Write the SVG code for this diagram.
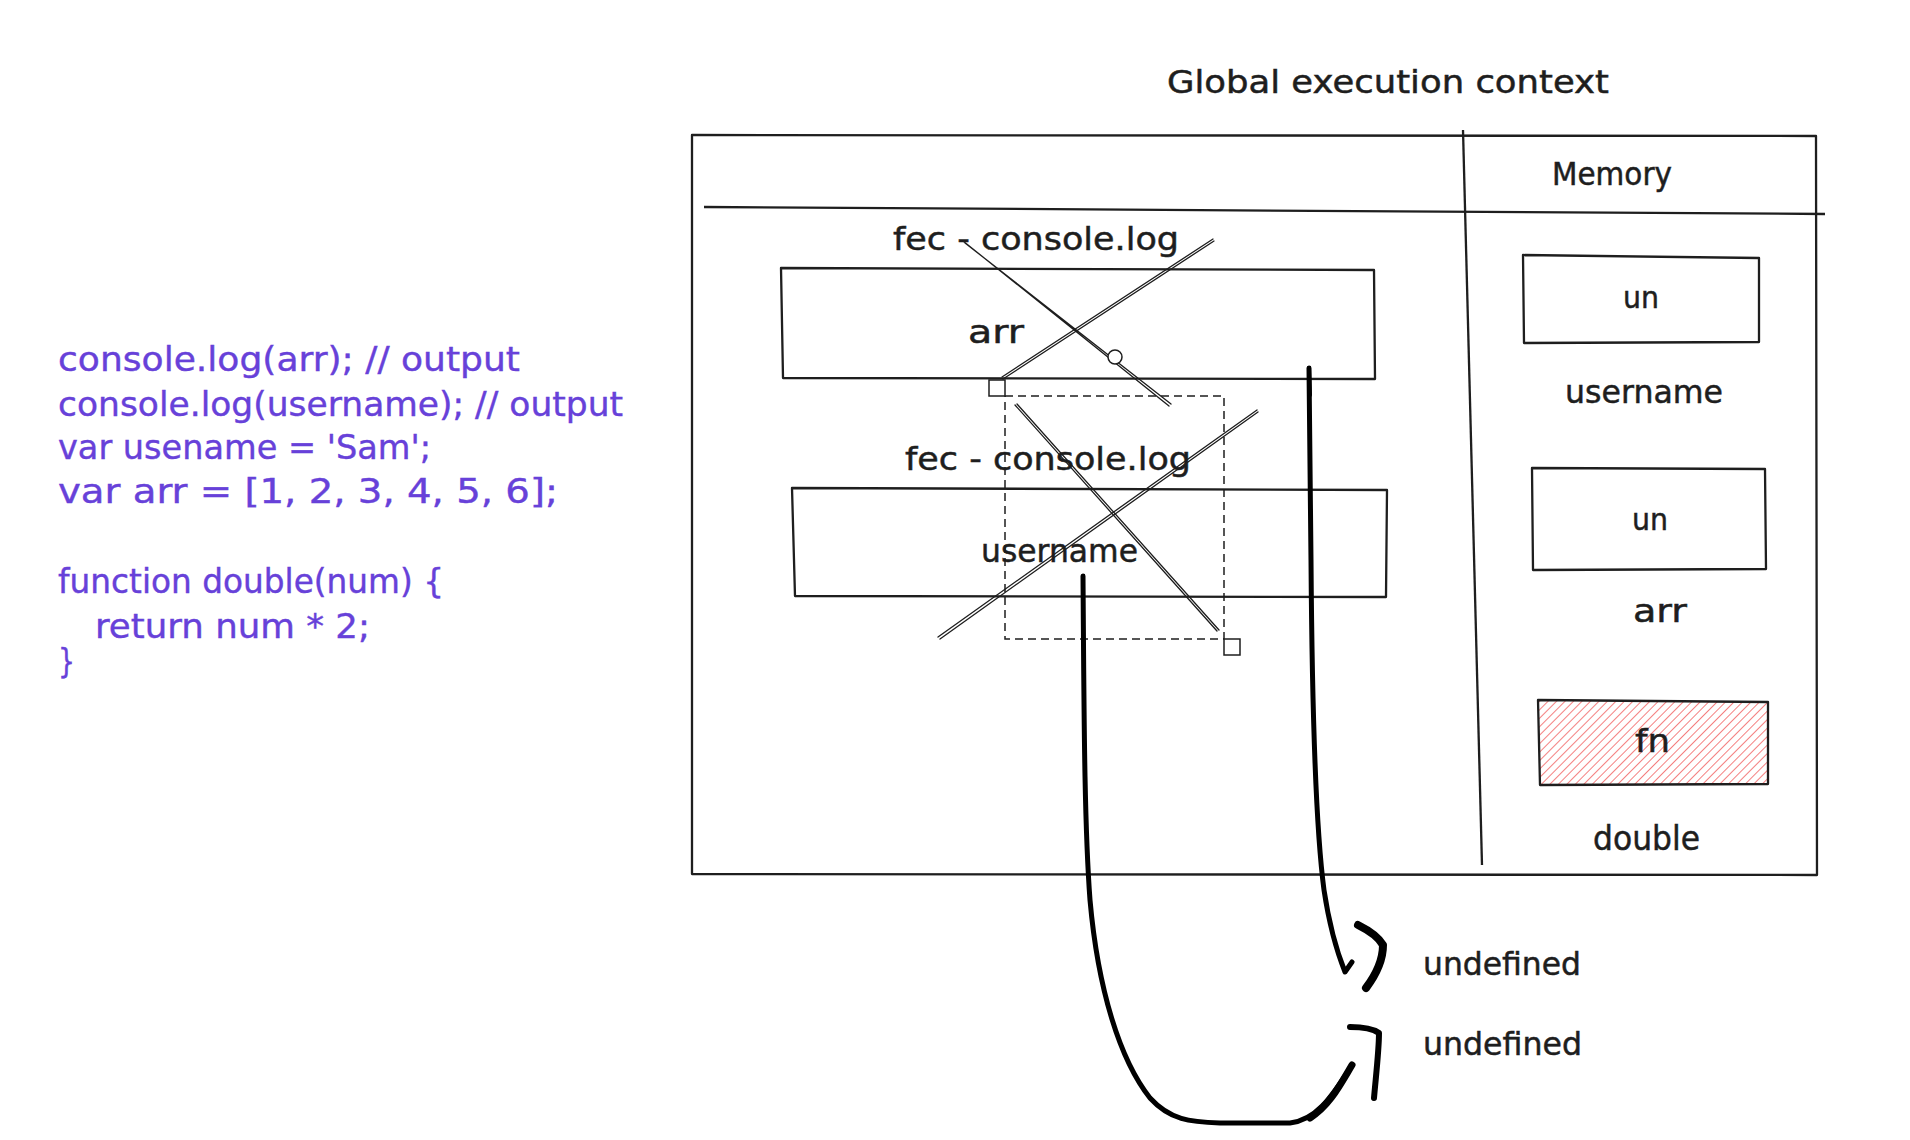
<svg xmlns="http://www.w3.org/2000/svg" width="1910" height="1140" viewBox="0 0 1910 1140">
<style>
.t{font-family:"DejaVu Sans","Liberation Sans",sans-serif;fill:#1e1e1e;stroke:#1e1e1e;stroke-width:0.5;}
.code{font-family:"DejaVu Sans","Liberation Sans",sans-serif;fill:#6741d9;stroke:#6741d9;stroke-width:0.4;font-size:34px;}
.box{fill:none;stroke:#1e1e1e;stroke-width:2.3;stroke-linejoin:round;}
.cross{fill:none;stroke:#1e1e1e;stroke-width:1.3;stroke-linecap:round;}
.arrow{fill:none;stroke:#000;stroke-width:5;stroke-linecap:round;stroke-linejoin:round;}
.brk{fill:none;stroke:#000;stroke-linecap:round;stroke-linejoin:round;}
</style>
<defs>
<pattern id="hatch" patternUnits="userSpaceOnUse" width="6" height="6" patternTransform="rotate(45)">
<line x1="0" y1="0" x2="0" y2="6" stroke="#f04848" stroke-width="1.4"/>
</pattern>
</defs>
<rect width="1910" height="1140" fill="#ffffff"/>

<g id="code">
<text class="code" x="58" y="371" textLength="462" lengthAdjust="spacingAndGlyphs">console.log(arr); // output</text>
<text class="code" x="58" y="416" textLength="565" lengthAdjust="spacingAndGlyphs">console.log(username); // output</text>
<text class="code" x="58" y="459" textLength="373" lengthAdjust="spacingAndGlyphs">var usename = 'Sam';</text>
<text class="code" x="58" y="503" textLength="500" lengthAdjust="spacingAndGlyphs">var arr = [1, 2, 3, 4, 5, 6];</text>
<text class="code" x="58" y="593" textLength="386" lengthAdjust="spacingAndGlyphs">function double(num) {</text>
<text class="code" x="95" y="638" textLength="275" lengthAdjust="spacingAndGlyphs">return num * 2;</text>
<text class="code" x="58" y="673" textLength="17" lengthAdjust="spacingAndGlyphs">}</text>
</g>

<g id="title">
<text class="t" x="1167" y="93" font-size="32" textLength="442" lengthAdjust="spacingAndGlyphs">Global execution context</text>
</g>

<g id="frame">
<path class="box" d="M692,135 L1816,136 L1817,875 L692,874 Z"/>
<path class="box" d="M704,207 L1825,214"/>
<path class="box" d="M1463,130 L1482,865"/>
<text class="t" x="1552" y="185" font-size="32" textLength="120" lengthAdjust="spacingAndGlyphs">Memory</text>
</g>

<g id="mem-username">
<path class="box" d="M1523,255 L1759,258 L1759,342 L1524,343 Z"/>
<text class="t" x="1623" y="308" font-size="30" textLength="36" lengthAdjust="spacingAndGlyphs">un</text>
<text class="t" x="1565" y="403" font-size="32" textLength="158" lengthAdjust="spacingAndGlyphs">username</text>
</g>

<g id="mem-arr">
<path class="box" d="M1532,468 L1765,469 L1766,569 L1533,570 Z"/>
<text class="t" x="1632" y="530" font-size="30" textLength="36" lengthAdjust="spacingAndGlyphs">un</text>
<text class="t" x="1633" y="622" font-size="32" textLength="54" lengthAdjust="spacingAndGlyphs">arr</text>
</g>

<g id="mem-double">
<path d="M1538,700 L1768,702 L1768,784 L1540,785 Z" fill="url(#hatch)" stroke="none"/>
<path class="box" d="M1538,700 L1768,702 L1768,784 L1540,785 Z"/>
<text class="t" x="1635" y="752" font-size="32" textLength="35" lengthAdjust="spacingAndGlyphs">fn</text>
<text class="t" x="1593" y="850" font-size="34" textLength="107" lengthAdjust="spacingAndGlyphs">double</text>
</g>

<g id="fec-arr">
<text class="t" x="893" y="250" font-size="32" textLength="286" lengthAdjust="spacingAndGlyphs">fec - console.log</text>
<path class="box" d="M781,268 L1374,270 L1375,379 L783,378 Z"/>
<text class="t" x="968" y="343" font-size="32" textLength="56" lengthAdjust="spacingAndGlyphs">arr</text>
<path class="cross" d="M963,241 L1169,406 M965,243 L1171,404"/>
<path class="cross" d="M1213,239 L1002,377 M1214,241 L1003,379"/>
<circle cx="1115" cy="357" r="7" fill="#fff" stroke="#1e1e1e" stroke-width="1.5"/>
</g>

<g id="fec-username">
<text class="t" x="905" y="470" font-size="32" textLength="286" lengthAdjust="spacingAndGlyphs">fec - console.log</text>
<path class="box" d="M792,488 L1387,490 L1386,597 L795,596 Z"/>
<text class="t" x="981" y="562" font-size="32" textLength="157" lengthAdjust="spacingAndGlyphs">username</text>
<path class="cross" d="M1015,405 L1217,631 M1017,404 L1219,630"/>
<path class="cross" d="M1257,410 L938,637 M1258,412 L940,639"/>
</g>

<g id="selection">
<rect x="1005" y="396" width="219" height="243" fill="none" stroke="#1e1e1e" stroke-width="1.5" stroke-dasharray="8 5"/>
<rect x="989" y="380" width="16" height="16" fill="#fff" stroke="#1e1e1e" stroke-width="1.5"/>
<rect x="1224" y="639" width="16" height="16" fill="#fff" stroke="#1e1e1e" stroke-width="1.5"/>
</g>

<g id="connectors">
<path class="arrow" d="M1309,368 L1311,560 C1312,700 1316,830 1324,890 C1330,930 1337,952 1345,972 L1352,962"/>
<path class="arrow" d="M1083,576 C1084,700 1084,820 1090,900 C1098,990 1120,1060 1150,1098 C1170,1120 1190,1122 1220,1123 L1290,1123 C1315,1120 1330,1100 1352,1065"/>
<path class="brk" stroke-width="4" d="M1309,368 L1310,395"/>
<path class="brk" stroke-width="7" d="M1310,1118 C1330,1105 1340,1085 1352,1065"/>
<path class="brk" stroke-width="8" d="M1358,925 C1366,929 1378,936 1383,945 C1383,958 1378,972 1366,988"/>
<path class="brk" stroke-width="6" d="M1350,1027 C1360,1027 1372,1028 1379,1033 C1379,1050 1376,1075 1374,1098"/>
</g>

<g id="results">
<text class="t" x="1423" y="975" font-size="32" textLength="158" lengthAdjust="spacingAndGlyphs">undefined</text>
<text class="t" x="1423" y="1055" font-size="32" textLength="159" lengthAdjust="spacingAndGlyphs">undefined</text>
</g>
</svg>
